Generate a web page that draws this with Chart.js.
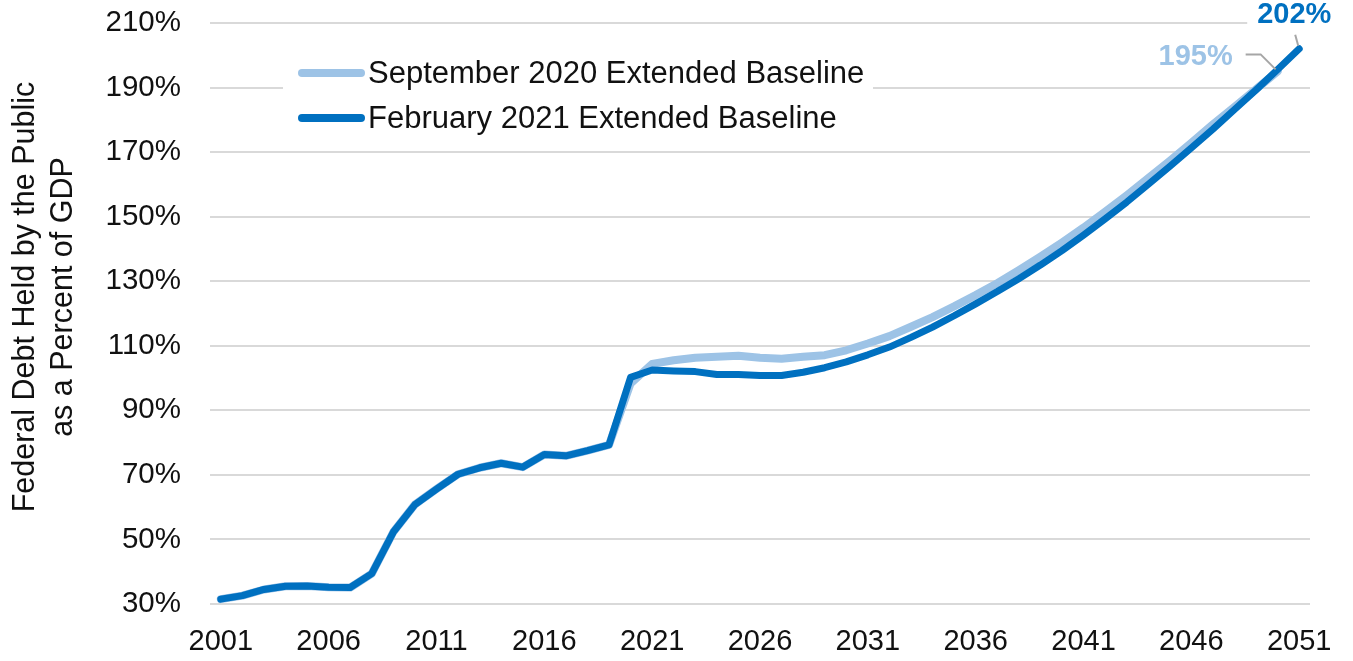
<!DOCTYPE html>
<html>
<head>
<meta charset="utf-8">
<script src="https://cdn.jsdelivr.net/npm/chart.js@4/dist/chart.umd.min.js"></script>
<style>
  html, body { margin: 0; padding: 0; background: #fff; }
  #wrap { width: 1353px; height: 661px; }
</style>
</head>
<body>
<div id="wrap"><canvas id="debtChart" width="1353" height="661"></canvas></div>
<script>
// x categories, one per fiscal year
const years = [];
for (let y = 2001; y <= 2051; y++) years.push(String(y));

const yTicks = [30, 50, 70, 90, 110, 130, 150, 170, 190, 210];

// debt held by the public, % of GDP
const sept2020 = [
    31.5, 32.6, 34.5, 35.5, 35.6, 35.2, 35.1, 39.4, 52.3, 60.8,
    65.6, 70.2, 72.2, 73.6, 72.4, 76.3, 75.9, 77.5, 79.3, 98.3,
    104.4, 105.5, 106.3, 106.6, 106.9, 106.3, 106.0, 106.6, 107.1, 108.6,
    110.7, 113.0, 115.9, 118.9, 122.2, 125.7, 129.4, 133.4, 137.6, 142.0,
    146.6, 151.5, 156.6, 161.9, 167.3, 172.9, 178.6, 184.0, 189.5, 195.0
];
const feb2021 = [
    31.5, 32.6, 34.5, 35.5, 35.6, 35.2, 35.1, 39.4, 52.3, 60.8,
    65.6, 70.2, 72.2, 73.6, 72.4, 76.3, 75.9, 77.5, 79.3, 100.2,
    102.5, 102.2, 102.0, 101.1, 101.1, 100.8, 100.8, 101.8, 103.2, 105.0,
    107.2, 109.6, 112.6, 115.8, 119.3, 123.0, 126.8, 130.8, 135.0, 139.5,
    144.3, 149.3, 154.5, 160.0, 165.6, 171.3, 177.1, 183.2, 189.3, 195.6,
    202.0
];

const seriesNames = ["September 2020 Extended Baseline", "February 2021 Extended Baseline"];
const yTitle = ["Federal Debt Held by the Public", "as a Percent of GDP"];
const LIGHT = "#9DC3E6";
const DARK = "#0070C0";
const FONT = "'Liberation Sans', Arial, sans-serif";

// y title, legend box and end-of-line value callouts
const overlayPlugin = {
    id: "overlay",
    afterDatasetsDraw(chart) {
        const ctx = chart.ctx;
        const ds = chart.data.datasets;
        ctx.save();

        // rotated axis title, two lines
        ctx.save();
        ctx.translate(0, 297);
        ctx.rotate(-Math.PI / 2);
        ctx.fillStyle = "#111";
        ctx.font = `30.5px ${FONT}`;
        ctx.textAlign = "center";
        ctx.textBaseline = "middle";
        ctx.fillText(yTitle[0], 0, 26);
        ctx.fillText(yTitle[1], 0, 64);
        ctx.restore();

        // legend (white box covers gridline like the original)
        ctx.fillStyle = "#fff";
        ctx.fillRect(283, 50, 590, 92);
        const rows = [73, 118];
        ds.forEach((d, i) => {
            ctx.strokeStyle = d.borderColor;
            ctx.lineWidth = 8;
            ctx.lineCap = "round";
            ctx.beginPath();
            ctx.moveTo(302, rows[i]);
            ctx.lineTo(361, rows[i]);
            ctx.stroke();
            ctx.fillStyle = "#111";
            ctx.font = `31px ${FONT}`;
            ctx.textBaseline = "middle";
            ctx.textAlign = "left";
            ctx.fillText(d.label, 368, rows[i] + 1);
        });

        // callouts at last points
        const lastLight = chart.getDatasetMeta(0).data[sept2020.length - 1];
        const lastDark = chart.getDatasetMeta(1).data[feb2021.length - 1];

        ctx.fillStyle = "#fff";
        ctx.fillRect(lastDark.x - 52, 0, 95, 31);

        ctx.strokeStyle = "#A6A6A6";
        ctx.lineWidth = 2;
        ctx.lineCap = "butt";
        ctx.beginPath();
        ctx.moveTo(lastLight.x - 2, lastLight.y - 2);
        ctx.lineTo(lastLight.x - 17, lastLight.y - 17);
        ctx.lineTo(lastLight.x - 32, lastLight.y - 17);
        ctx.stroke();
        ctx.beginPath();
        ctx.moveTo(lastDark.x - 1, lastDark.y - 3);
        ctx.lineTo(lastDark.x - 4, lastDark.y - 14);
        ctx.stroke();

        ctx.font = `bold 29px ${FONT}`;
        ctx.textAlign = "center";
        ctx.textBaseline = "middle";
        ctx.fillStyle = LIGHT;
        ctx.fillText(Math.round(sept2020[sept2020.length - 1]) + "%", lastLight.x - 82, lastLight.y - 14);
        ctx.fillStyle = DARK;
        ctx.fillText(Math.round(feb2021[feb2021.length - 1]) + "%", lastDark.x - 5, lastDark.y - 34);

        ctx.restore();
    }
};

const ctx = document.getElementById("debtChart").getContext("2d");
new Chart(ctx, {
    type: "line",
    data: {
        labels: years,
        datasets: [
            {
                label: seriesNames[0],
                data: sept2020,
                borderColor: LIGHT,
                borderWidth: 8,
                order: 2
            },
            {
                label: seriesNames[1],
                data: feb2021,
                borderColor: DARK,
                borderWidth: 7,
                order: 1
            }
        ]
    },
    options: {
        responsive: false,
        animation: false,
        devicePixelRatio: 1,
        layout: { padding: { top: 23, right: 43, left: 0, bottom: 0 } },
        elements: {
            point: { radius: 0, hoverRadius: 0 },
            line: { tension: 0, borderCapStyle: "round", borderJoinStyle: "round", fill: false }
        },
        plugins: {
            legend: { display: false },
            tooltip: { enabled: false }
        },
        scales: {
            x: {
                type: "category",
                offset: true,
                grid: { display: false, drawTicks: false },
                border: { display: false },
                ticks: {
                    autoSkip: false,
                    maxRotation: 0,
                    padding: 21,
                    color: "#111",
                    font: { family: FONT, size: 29 },
                    callback: function (val, i) {
                        return i % 5 === 0 ? this.getLabelForValue(val) : null;
                    }
                },
                afterFit: (scale) => { scale.height = 57; }
            },
            y: {
                min: 30,
                max: 210,
                afterBuildTicks: (scale) => { scale.ticks = yTicks.map(v => ({ value: v })); },
                grid: { color: "#D9D9D9", lineWidth: 2, drawTicks: false },
                border: { display: false },
                ticks: {
                    padding: 29,
                    color: "#111",
                    font: { family: FONT, size: 29.5 },
                    callback: (v) => v + "%"
                },
                afterFit: (scale) => {
                    scale.width = 210;
                    scale.paddingTop = 0;
                    scale.paddingBottom = 0;
                }
            }
        }
    },
    plugins: [overlayPlugin]
});
</script>
</body>
</html>
